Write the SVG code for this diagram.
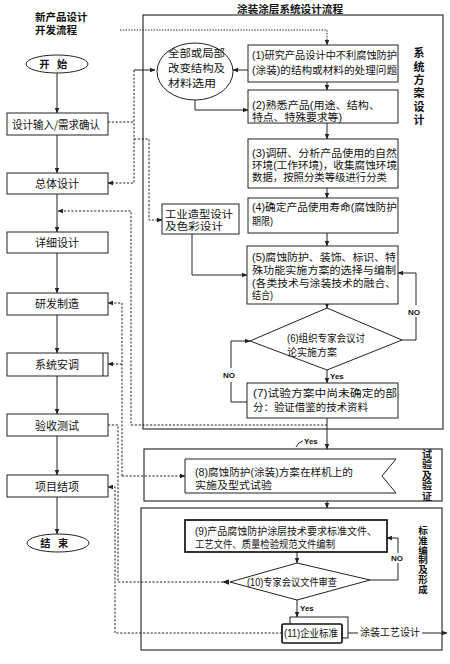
<svg xmlns="http://www.w3.org/2000/svg" width="450" height="664" viewBox="0 0 450 664">
<defs>
<marker id="ah" viewBox="0 0 10 10" refX="9" refY="5" markerWidth="6" markerHeight="6" orient="auto" markerUnits="userSpaceOnUse"><path d="M0,1 L10,5 L0,9 z" fill="#222"/></marker>
</defs>
<style>
text{font-family:"Noto Sans CJK SC","Noto Sans",sans-serif;fill:#111}
.t{font-family:"Liberation Sans","Noto Sans CJK SC",sans-serif;font-size:10.2px}
.l{font-size:11px;text-anchor:middle}
.b{font-weight:bold}
.v{font-weight:bold;writing-mode:vertical-rl;text-orientation:upright}
.box{fill:#fff;stroke:#222;stroke-width:1}
.thk{fill:#fff;stroke:#111;stroke-width:1.7}
.frame{fill:none;stroke:#333;stroke-width:1.2}
.ln{fill:none;stroke:#222;stroke-width:1}
.ds{fill:none;stroke:#222;stroke-width:1;stroke-dasharray:2.2,1.6}
.dt{fill:none;stroke:#222;stroke-width:1;stroke-dasharray:1.4,1.4}
.lat{font-family:"Liberation Sans",sans-serif;font-size:8px;font-weight:bold}
</style>
<rect width="450" height="664" fill="#fff"/>

<g id="frames">
<rect class="frame" x="143" y="15" width="300" height="414"/>
<rect class="frame" x="144" y="449" width="298" height="52"/>
<rect class="frame" x="141" y="508" width="301" height="142"/>
<text class="t b" x="35" y="21" style="font-size:10.5px"><tspan x="35">新产品设计</tspan><tspan x="35" dy="13">开发流程</tspan></text>
<text class="t b" x="237" y="12.5" textLength="106" lengthAdjust="spacingAndGlyphs">涂装涂层系统设计流程</text>
<text class="v" x="419" y="47.5" style="font-size:11px;letter-spacing:2.4px">系统方案设计</text>
<text class="v" x="427" y="449" style="font-size:10px;letter-spacing:0.5px">试验及验证</text>
<text class="v" x="423" y="526" style="font-size:9.5px;letter-spacing:0.2px">标准编制及形成</text>
</g>

<g id="connectors">
<path class="ln" d="M57,73 V113" marker-end="url(#ah)"/>
<path class="ln" d="M57,135 V173" marker-end="url(#ah)"/>
<path class="ln" d="M57,194 V232" marker-end="url(#ah)"/>
<path class="ln" d="M57,253 V293" marker-end="url(#ah)"/>
<path class="ln" d="M57,315 V353" marker-end="url(#ah)"/>
<path class="ln" d="M57,376 V414" marker-end="url(#ah)"/>
<path class="ln" d="M57,436 V475" marker-end="url(#ah)"/>
<path class="ln" d="M57,497 V534" marker-end="url(#ah)"/>

<path class="ln" d="M327,82 V90" marker-end="url(#ah)"/>
<path class="ln" d="M327,123 V139" marker-end="url(#ah)"/>
<path class="ln" d="M327,188 V198" marker-end="url(#ah)"/>
<path class="ln" d="M327,233 V246" marker-end="url(#ah)"/>
<path class="ln" d="M327,304 V308" marker-end="url(#ah)"/>
<path class="ln" d="M327,370 V383" marker-end="url(#ah)"/>
<path class="ln" d="M327,418 V449" marker-end="url(#ah)"/>
<path class="ln" d="M327,501 V508" marker-end="url(#ah)"/>
<path class="ln" d="M297,552 V563" marker-end="url(#ah)"/>
<path class="ln" d="M297,600 V617" marker-end="url(#ah)"/>

<path class="ln" d="M248,70 H233" marker-end="url(#ah)"/>
<path class="ln" d="M195,100 V110 H248" marker-end="url(#ah)"/>
<path class="ln" d="M192,234 V275 H247" marker-end="url(#ah)"/>
<path class="ln" d="M402,340 H416 V317"/>
<path class="ln" d="M416,305 V273 H398" marker-end="url(#ah)"/>
<path class="ln" d="M247,402 H231 V382"/>
<path class="ln" d="M231,368 V341 H250" marker-end="url(#ah)"/>
<path class="ln" d="M370,580 H398 V563"/>
<path class="ln" d="M398,553 V538 H387" marker-end="url(#ah)"/>
<path class="ln" d="M348,633 H358"/>
<path class="ln" d="M422,633 H447" marker-end="url(#ah)"/>
<path class="ln" d="M134,70 H155" marker-end="url(#ah)"/>
<path class="ln" d="M296,447 Q298,442 303,441"/>

<path class="ds" d="M108,122 H134"/>
<path class="ds" d="M134,70 V183 H108" marker-end="url(#ah)"/>
<path class="ds" d="M134,139 H149 V220 H162" marker-end="url(#ah)"/>
<path class="dt" d="M120,30 H327 V45" marker-end="url(#ah)"/>
<path class="ds" d="M327,425 H131 V211 H58" marker-end="url(#ah)"/>
<path class="ds" d="M122,476 H185" marker-end="url(#ah)"/>
<path class="ds" d="M122,476 V303 H108" marker-end="url(#ah)"/>
<path class="ds" d="M122,364 H108" marker-end="url(#ah)"/>
<path class="ds" d="M108,425 H118 V582 H229"/>
<polygon points="222,582 229,579.3 229,584.7" fill="#222"/>
<path class="ds" d="M282,633 H115 V487 H108" marker-end="url(#ah)"/>

<text class="lat" x="408" y="315">NO</text>
<text class="lat" x="223" y="378">NO</text>
<text class="lat" x="391" y="561">NO</text>
<text class="lat" x="330" y="379">Yes</text>
<text class="lat" x="304" y="444">Yes</text>
<text class="lat" x="300" y="611">Yes</text>
<text class="t" x="360" y="636" textLength="60" lengthAdjust="spacingAndGlyphs">涂装工艺设计</text>
</g>

<g id="n-start"><ellipse class="box" cx="57" cy="64" rx="31" ry="9"/><text class="t b" x="57" y="68" text-anchor="middle" style="letter-spacing:7.5px">开始</text></g>
<g id="n-input"><rect class="box" x="7" y="113" width="101" height="22"/><text class="l" x="56" y="128.5" textLength="88" lengthAdjust="spacingAndGlyphs">设计输入/需求确认</text></g>
<g id="n-overall"><rect class="box" x="7" y="173" width="101" height="21"/><text class="l" x="57" y="187.5">总体设计</text></g>
<g id="n-detail"><rect class="box" x="7" y="232" width="101" height="21"/><text class="l" x="57" y="247">详细设计</text></g>
<g id="n-make"><rect class="box" x="7" y="293" width="101" height="22"/><text class="l" x="57" y="308">研发制造</text></g>
<g id="n-adjust"><rect class="box" x="7" y="353" width="101" height="23"/><line class="ln" x1="103" y1="353" x2="103" y2="376"/><text class="l" x="57" y="369">系统安调</text></g>
<g id="n-accept"><rect class="box" x="7" y="414" width="101" height="22"/><text class="l" x="57" y="429.5">验收测试</text></g>
<g id="n-close"><rect class="box" x="7" y="475" width="101" height="22"/><text class="l" x="57" y="490.5">项目结项</text></g>
<g id="n-end"><ellipse class="box" cx="58" cy="543" rx="31" ry="9"/><text class="t b" x="58" y="547" text-anchor="middle" style="letter-spacing:7.5px">结束</text></g>

<g id="n-change"><ellipse class="box" cx="195" cy="71.5" rx="38" ry="28.5"/>
<text class="t" x="168" y="57"><tspan x="168" textLength="57" lengthAdjust="spacingAndGlyphs">全部或局部</tspan><tspan x="168" dy="15" textLength="57" lengthAdjust="spacingAndGlyphs">改变结构及</tspan><tspan x="168" dy="15" textLength="48" lengthAdjust="spacingAndGlyphs">材料选用</tspan></text></g>
<g id="n1"><rect class="box" x="248" y="45" width="150" height="37"/>
<text class="t" x="252" y="59"><tspan x="252" textLength="145" lengthAdjust="spacingAndGlyphs">(1)研究产品设计中不利腐蚀防护</tspan><tspan x="252" dy="15" textLength="145" lengthAdjust="spacingAndGlyphs">(涂装)的结构或材料的处理问题</tspan></text></g>
<g id="n2"><rect class="box" x="248" y="90" width="150" height="33"/>
<text class="t" x="252" y="109"><tspan x="252" textLength="128" lengthAdjust="spacingAndGlyphs">(2)熟悉产品(用途、结构、</tspan><tspan x="252" dy="12" textLength="90" lengthAdjust="spacingAndGlyphs">特点、特殊要求等)</tspan></text></g>
<g id="n3"><rect class="box" x="248" y="139" width="150" height="49"/>
<text class="t" x="252" y="157"><tspan x="252" textLength="145" lengthAdjust="spacingAndGlyphs">(3)调研、分析产品使用的自然</tspan><tspan x="252" dy="12" textLength="145" lengthAdjust="spacingAndGlyphs">环境(工作环境)，收集腐蚀环境</tspan><tspan x="252" dy="12" textLength="135" lengthAdjust="spacingAndGlyphs">数据，按照分类等级进行分类</tspan></text></g>
<g id="n4"><rect class="box" x="248" y="198" width="150" height="35"/>
<text class="t" x="252" y="211"><tspan x="252" textLength="145" lengthAdjust="spacingAndGlyphs">(4)确定产品使用寿命(腐蚀防护</tspan><tspan x="252" dy="14" textLength="21" lengthAdjust="spacingAndGlyphs">期限)</tspan></text></g>
<g id="n-industrial"><rect class="box" x="162" y="204" width="77" height="30"/>
<text class="t" x="165" y="218"><tspan x="165" textLength="68" lengthAdjust="spacingAndGlyphs">工业造型设计</tspan><tspan x="165" dy="12" textLength="58" lengthAdjust="spacingAndGlyphs">及色彩设计</tspan></text></g>
<g id="n5"><rect class="box" x="247" y="246" width="151" height="58"/>
<text class="t" x="252" y="261"><tspan x="252" textLength="144" lengthAdjust="spacingAndGlyphs">(5)腐蚀防护、装饰、标识、特</tspan><tspan x="252" dy="13" textLength="144" lengthAdjust="spacingAndGlyphs">殊功能实施方案的选择与编制</tspan><tspan x="252" dy="13" textLength="144" lengthAdjust="spacingAndGlyphs">(各类技术与涂装技术的融合、</tspan><tspan x="252" dy="12" textLength="21" lengthAdjust="spacingAndGlyphs">结合)</tspan></text></g>
<g id="n6"><polygon class="box" points="327,308 402,340 327,370 250,341"/>
<text class="t" x="287" y="342"><tspan x="287" textLength="78" lengthAdjust="spacingAndGlyphs">(6)组织专家会议讨</tspan><tspan x="287" dy="14" textLength="50" lengthAdjust="spacingAndGlyphs">论实施方案</tspan></text></g>
<g id="n7"><rect class="box" x="247" y="383" width="151" height="35"/>
<text class="t" x="253" y="397"><tspan x="253" textLength="144" lengthAdjust="spacingAndGlyphs">(7)试验方案中尚未确定的部</tspan><tspan x="253" dy="14" textLength="115" lengthAdjust="spacingAndGlyphs">分：验证借鉴的技术资料</tspan></text></g>
<g id="n8"><polygon class="box" points="185,459 396,459 382,476 396,493 185,493"/>
<text class="t" x="195" y="476"><tspan x="195" textLength="158" lengthAdjust="spacingAndGlyphs">(8)腐蚀防护(涂装)方案在样机上的</tspan><tspan x="195" dy="13" textLength="77" lengthAdjust="spacingAndGlyphs">实施及型式试验</tspan></text></g>
<g id="n9"><rect class="thk" x="185" y="520" width="202" height="32"/>
<text class="t" x="195" y="535"><tspan x="195" textLength="182" lengthAdjust="spacingAndGlyphs">(9)产品腐蚀防护涂层技术要求标准文件、</tspan><tspan x="195" dy="13" textLength="140" lengthAdjust="spacingAndGlyphs">工艺文件、质量检验规范文件编制</tspan></text></g>
<g id="n10"><polygon class="box" points="297,563 370,580 297,600 230,582"/>
<text class="t" x="247" y="586" textLength="90" lengthAdjust="spacingAndGlyphs">(10)专家会议文件审查</text></g>
<g id="n11"><rect class="box" x="290" y="617" width="58" height="21"/><rect class="thk" x="282" y="624" width="60" height="19" rx="1.5"/>
<text class="t" x="284" y="637" textLength="54" lengthAdjust="spacingAndGlyphs">(11)企业标准</text></g>
</svg>
